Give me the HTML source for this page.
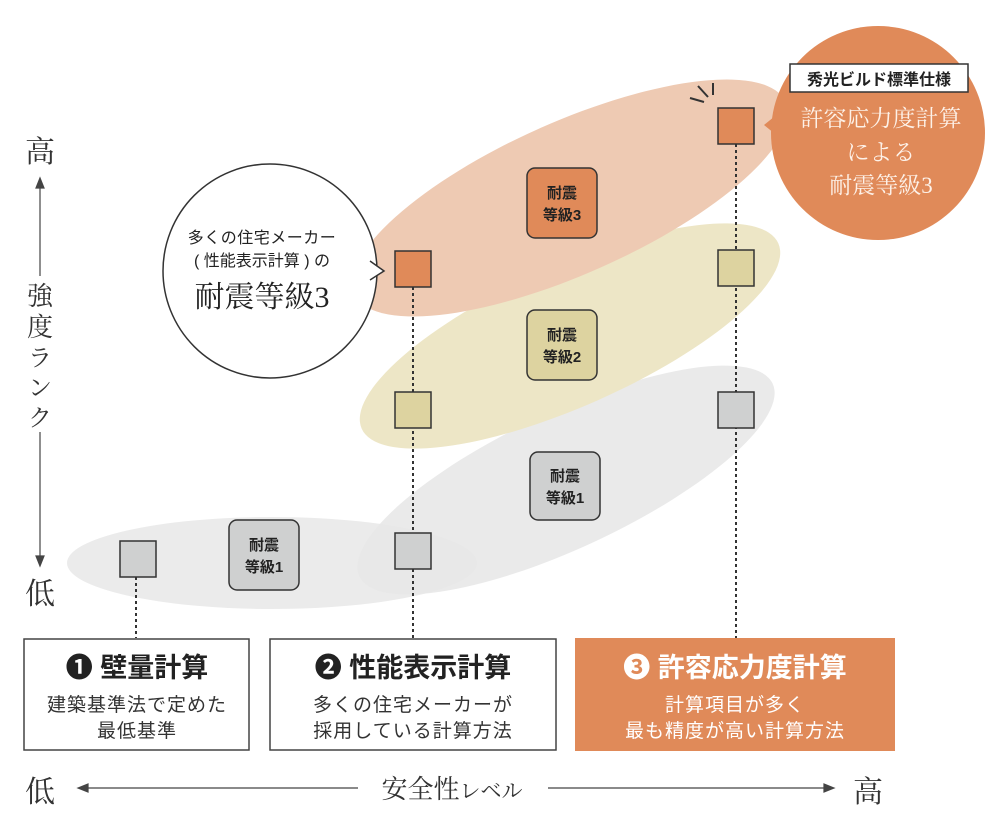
<!DOCTYPE html>
<html><head><meta charset="utf-8"><style>
body{margin:0;background:#fff}
svg text{font-family:"Liberation Sans","Noto Sans CJK JP",sans-serif}
.serif{font-family:"Liberation Serif","Noto Serif CJK SC",serif}
</style></head><body>
<svg width="1006" height="828" viewBox="0 0 1006 828" xmlns="http://www.w3.org/2000/svg">
<ellipse cx="272" cy="563" rx="205" ry="46" fill="#ebebeb"/>
<ellipse cx="566" cy="480" rx="228" ry="68" fill="#e8e8e8" transform="rotate(-25 566 480)" opacity="0.9"/>
<ellipse cx="570" cy="336" rx="228" ry="70" fill="#ede6c6" transform="rotate(-24 570 336)"/>
<ellipse cx="570" cy="198" rx="236" ry="76" fill="#eecab3" transform="rotate(-24 570 198)"/>
<g stroke="#333" stroke-width="2" stroke-dasharray="3,3">
<line x1="136" y1="577" x2="136" y2="638"/>
<line x1="413" y1="287" x2="413" y2="638"/>
<line x1="736" y1="144" x2="736" y2="638"/>
</g>
<g stroke="#333" stroke-width="1.5">
<rect x="718" y="108" width="36" height="36" fill="#e08a59"/>
<rect x="395" y="251" width="36" height="36" fill="#e08a59"/>
<rect x="718" y="250" width="36" height="36" fill="#ddd3a0"/>
<rect x="395" y="392" width="36" height="36" fill="#ddd3a0"/>
<rect x="718" y="392" width="36" height="36" fill="#cfd0d0"/>
<rect x="395" y="533" width="36" height="36" fill="#cfd0d0"/>
<rect x="120" y="541" width="36" height="36" fill="#cfd0d0"/>
</g>
<g stroke="#333" stroke-width="2"><line x1="690" y1="98" x2="704" y2="102"/><line x1="698" y1="86" x2="708" y2="97"/><line x1="713" y1="83" x2="713" y2="95"/></g>
<g stroke="#333" stroke-width="1.5">
<rect x="527" y="168" width="70" height="70" rx="8" fill="#e08a59"/>
<rect x="527" y="310" width="70" height="70" rx="8" fill="#ddd3a0"/>
<rect x="530" y="452" width="70" height="68" rx="8" fill="#cfd0d0"/>
<rect x="229" y="520" width="70" height="70" rx="8" fill="#cfd0d0"/>
</g>
<g font-size="15" font-weight="bold" fill="#222" text-anchor="middle">
<text x="562" y="198">耐震</text><text x="562" y="220">等級3</text>
<text x="562" y="340">耐震</text><text x="562" y="362">等級2</text>
<text x="565" y="481">耐震</text><text x="565" y="503">等級1</text>
<text x="264" y="550">耐震</text><text x="264" y="572">等級1</text>
</g>
<circle cx="270" cy="271" r="107" fill="#fff" stroke="#333" stroke-width="1.5"/>
<path d="M370,261 L384,271 L370,280 Z" fill="#fff"/>
<polyline points="370,261 384,271 370,280" fill="none" stroke="#333" stroke-width="1.5"/>
<g text-anchor="middle" fill="#222">
<text x="262" y="243" font-size="16" letter-spacing="0.5">多くの住宅メーカー</text>
<text x="262" y="266" font-size="16">( 性能表示計算 ) の</text>
<text x="262" y="307" font-size="30" class="serif">耐震等級3</text>
</g>
<path d="M780,112 L764,125 L780,138 Z" fill="#e08a59"/>
<circle cx="878" cy="133" r="107" fill="#e08a59"/>
<rect x="790" y="64" width="178" height="28" fill="#fff" stroke="#333" stroke-width="1.5"/>
<text x="879" y="85" font-size="16" font-weight="bold" text-anchor="middle" fill="#222">秀光ビルド標準仕様</text>
<g text-anchor="middle" fill="#fdf1e8" font-size="23">
<text x="881" y="126" class="serif">許容応力度計算</text>
<text x="881" y="160" class="serif">による</text>
<text x="881" y="193" class="serif">耐震等級3</text>
</g>
<rect x="24" y="639" width="225" height="111" fill="#fff" stroke="#444" stroke-width="1.5"/>
<rect x="270" y="639" width="286" height="111" fill="#fff" stroke="#444" stroke-width="1.5"/>
<rect x="575" y="638" width="320" height="113" fill="#e08a59"/>
<g text-anchor="middle">
<text x="137" y="677" font-size="27" font-weight="bold" fill="#222">❶ 壁量計算</text>
<text x="137" y="711" font-size="19" fill="#333" letter-spacing="1">建築基準法で定めた</text>
<text x="137" y="737" font-size="19" fill="#333" letter-spacing="1">最低基準</text>
<text x="413" y="677" font-size="27" font-weight="bold" fill="#222">❷ 性能表示計算</text>
<text x="413" y="711" font-size="19" fill="#333" letter-spacing="1">多くの住宅メーカーが</text>
<text x="413" y="737" font-size="19" fill="#333" letter-spacing="1">採用している計算方法</text>
<text x="735" y="677" font-size="27" font-weight="bold" fill="#fff">❸ 許容応力度計算</text>
<text x="735" y="711" font-size="19" fill="#fff" letter-spacing="1">計算項目が多く</text>
<text x="735" y="737" font-size="19" fill="#fff" letter-spacing="1">最も精度が高い計算方法</text>
</g>
<g stroke="#444" stroke-width="1.2" fill="#444">
<line x1="82" y1="788" x2="358" y2="788"/><path d="M78,788 L88,784 L88,792 Z"/>
<line x1="548" y1="788" x2="828" y2="788"/><path d="M834,788 L824,784 L824,792 Z"/>
<line x1="40" y1="186" x2="40" y2="276"/><path d="M40,178 L36,188 L44,188 Z"/>
<line x1="40" y1="432" x2="40" y2="558"/><path d="M40,566 L36,556 L44,556 Z"/>
</g>
<g fill="#333">
<text x="40" y="802" font-size="30" text-anchor="middle" class="serif">低</text>
<text x="868" y="802" font-size="30" text-anchor="middle" class="serif">高</text>
<text x="452" y="798" font-size="26" text-anchor="middle" class="serif">安全性<tspan font-size="21">レベル</tspan></text>
<text x="40" y="162" font-size="30" text-anchor="middle" class="serif">高</text>
<text x="40" y="604" font-size="30" text-anchor="middle" class="serif">低</text>
<text x="40" y="305" font-size="26" text-anchor="middle" class="serif">強</text>
<text x="40" y="336" font-size="26" text-anchor="middle" class="serif">度</text>
<text x="40" y="366" font-size="24" text-anchor="middle" class="serif">ラ</text>
<text x="40" y="396" font-size="24" text-anchor="middle" class="serif">ン</text>
<text x="40" y="426" font-size="24" text-anchor="middle" class="serif">ク</text>
</g>
</svg>
</body></html>
